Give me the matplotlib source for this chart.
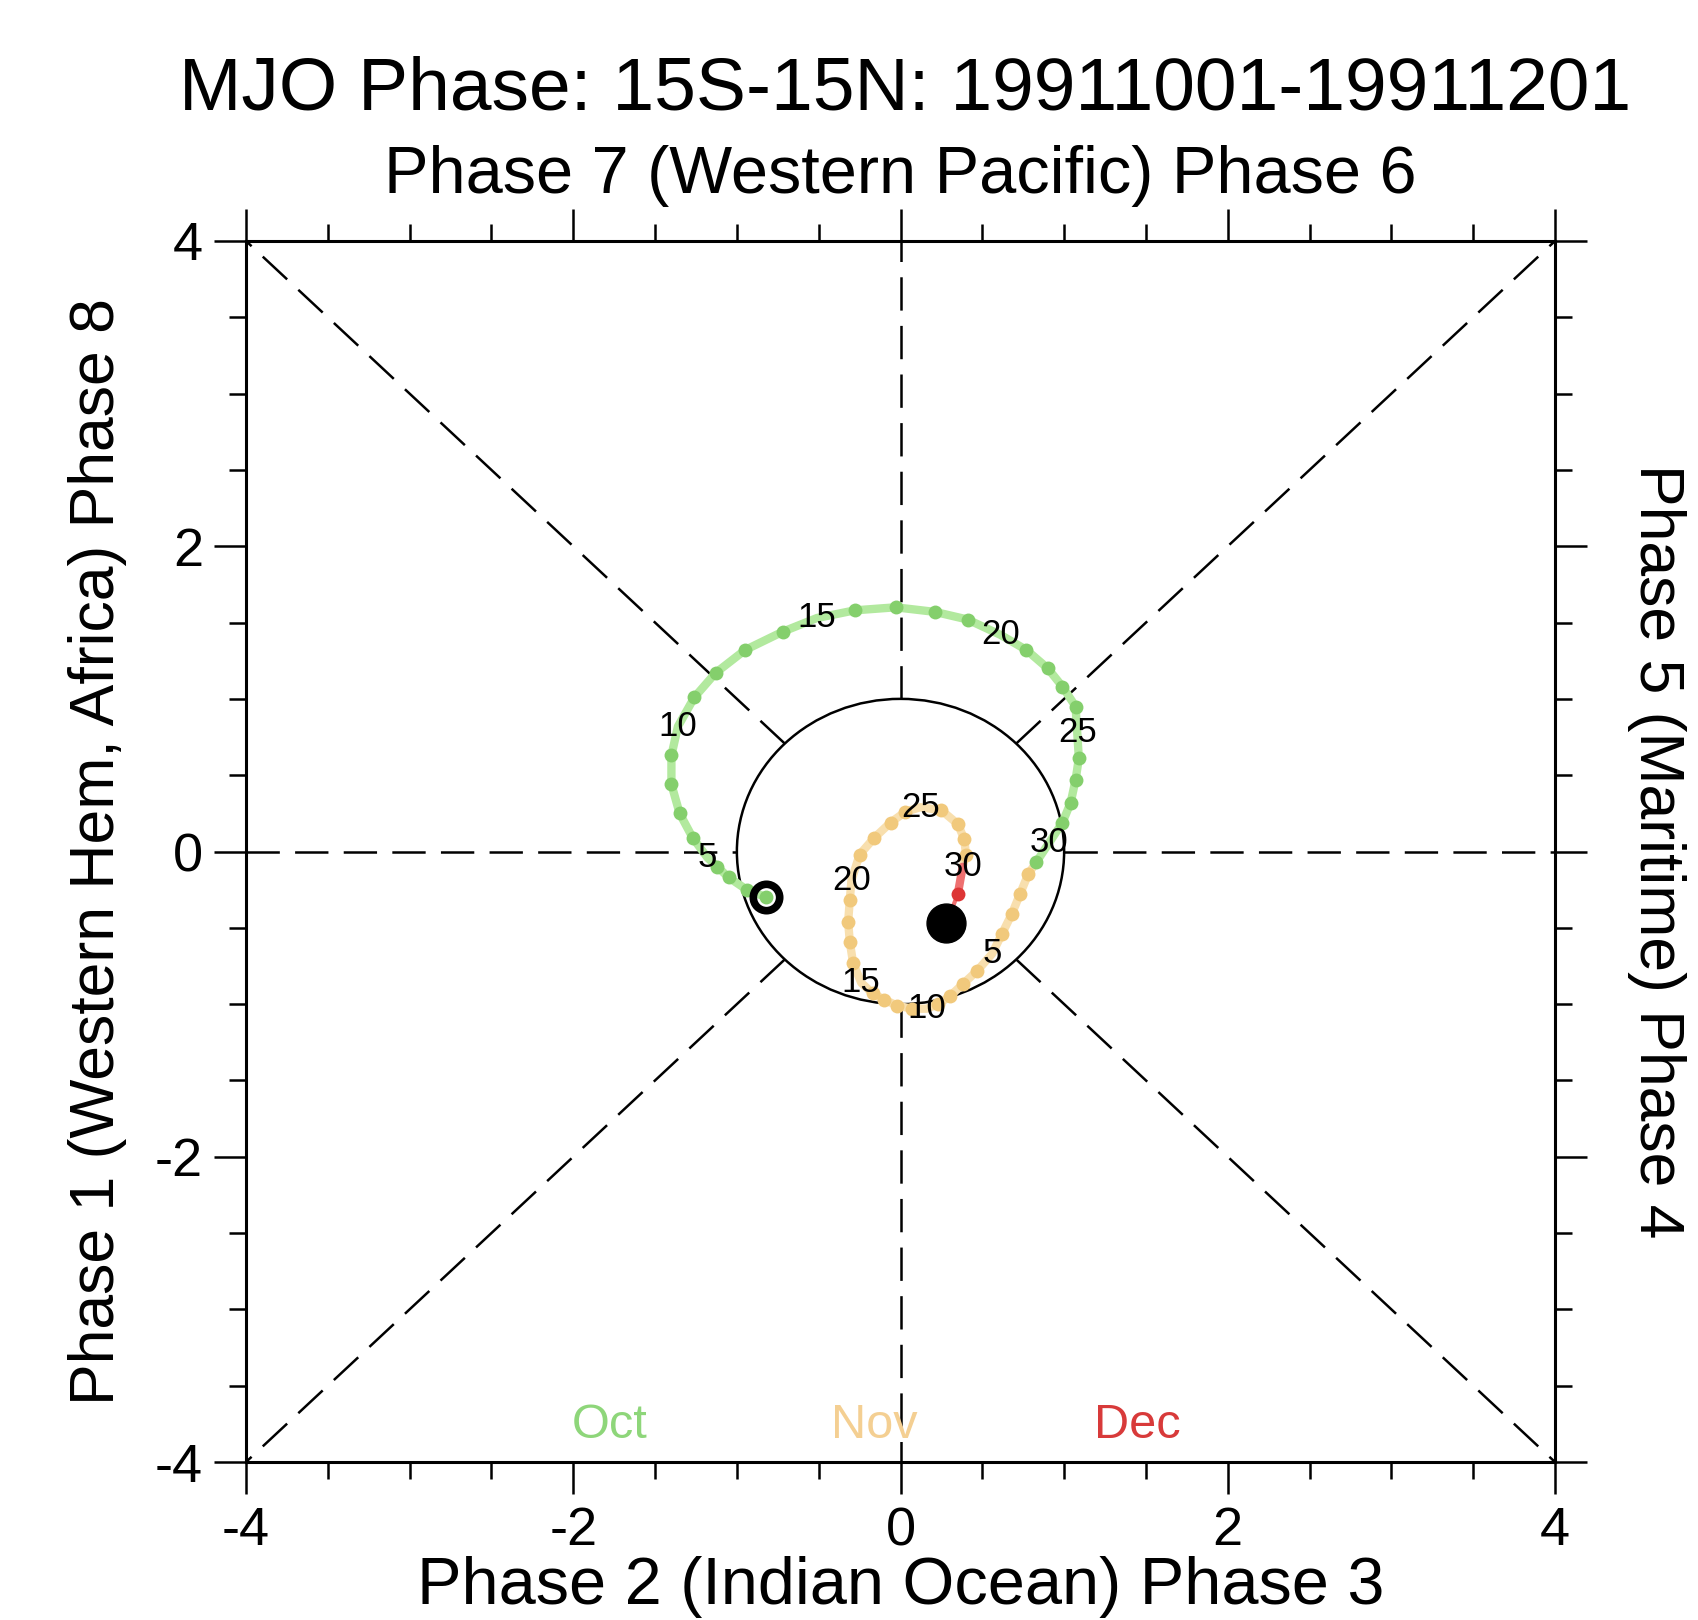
import numpy as np
import matplotlib
matplotlib.use("Agg")
import matplotlib.pyplot as plt
from matplotlib.patches import Circle
from matplotlib.ticker import MultipleLocator, FixedLocator

plt.rcParams['font.family'] = ['Liberation Sans', 'DejaVu Sans']
plt.rcParams['axes.unicode_minus'] = False
plt.rcParams['lines.scale_dashes'] = False

# ---------------- data ----------------
title = "MJO Phase: 15S-15N: 19911001-19911201"
top_label = "Phase 7 (Western Pacific) Phase 6"
bottom_label = "Phase 2 (Indian Ocean) Phase 3"
left_label = "Phase 1 (Western Hem, Africa) Phase 8"
right_label = "Phase 5 (Maritime) Phase 4"

major_ticks = [-4, -2, 0, 2, 4]
tick_labels = ["-4", "-2", "0", "2", "4"]

oct_x = [-0.82, -0.94, -1.05, -1.12, -1.18, -1.27, -1.35, -1.40, -1.40, -1.36,
         -1.26, -1.13, -0.95, -0.72, -0.51, -0.28, -0.03, 0.21, 0.41, 0.61,
         0.77, 0.90, 0.99, 1.07, 1.08, 1.09, 1.07, 1.04, 0.99, 0.91, 0.83]
oct_y = [-0.30, -0.25, -0.17, -0.10, -0.04, 0.09, 0.25, 0.44, 0.63, 0.82,
         1.01, 1.17, 1.32, 1.44, 1.53, 1.58, 1.60, 1.57, 1.52, 1.42,
         1.32, 1.20, 1.08, 0.95, 0.78, 0.61, 0.47, 0.32, 0.19, 0.06, -0.07]

nov_x = [0.78, 0.73, 0.68, 0.62, 0.56, 0.47, 0.38, 0.30, 0.23, 0.16,
         0.07, -0.02, -0.10, -0.17, -0.24, -0.29, -0.31, -0.32, -0.31, -0.30,
         -0.25, -0.16, -0.06, 0.03, 0.12, 0.25, 0.35, 0.39, 0.40, 0.38]
nov_y = [-0.15, -0.28, -0.41, -0.54, -0.67, -0.78, -0.87, -0.95, -1.00, -1.03,
         -1.03, -1.01, -0.97, -0.93, -0.86, -0.73, -0.59, -0.46, -0.32, -0.19,
         -0.02, 0.09, 0.19, 0.26, 0.29, 0.27, 0.18, 0.08, -0.02, -0.10]

dec_x = [0.35]
dec_y = [-0.28]

end_x = 0.28
end_y = -0.47

month_names = ["Oct", "Nov", "Dec"]
month_label_x = [-1.78, -0.16, 1.45]
month_label_y = -3.76

oct_marker_c, oct_line_c = "#84CF6C", "#B2E99E"
nov_marker_c, nov_line_c = "#F1C97C", "#F8DFAE"
dec_marker_c, dec_line_c = "#DD3535", "#EE7070"
month_text_c = ["#8ED67A", "#F4CF92", "#D83A3A"]

# ---------------- figure ----------------
W, H = 1698, 1620
fig = plt.figure(figsize=(W / 100, H / 100), dpi=100)
ax = fig.add_axes([246 / W, (H - 1462) / H, 1309 / W, 1221 / H])
ax.set_xlim(-4, 4)
ax.set_ylim(-4, 4)

# reference lines
dash = (0, (24, 11))
r = np.sqrt(0.5)
ax.plot([-4, -1], [0, 0], color="black", lw=1.8, linestyle=dash)
ax.plot([1, 4], [0, 0], color="black", lw=1.8, linestyle=dash)
ax.plot([0, 0], [1, 4], color="black", lw=1.8, linestyle=dash)
ax.plot([0, 0], [-1, -4], color="black", lw=1.8, linestyle=dash)
for sx, sy in [(1, 1), (-1, 1), (1, -1), (-1, -1)]:
    ax.plot([sx * r, sx * 4], [sy * r, sy * 4], color="black", lw=1.8,
            linestyle=dash)
ax.add_patch(Circle((0, 0), 1.0, fill=False, edgecolor="black", lw=1.8,
                    zorder=3))

# trajectory
def draw_month(xs, ys, prev, mc, lc, zo):
    lx = ([prev[0]] if prev else []) + list(xs)
    ly = ([prev[1]] if prev else []) + list(ys)
    ax.plot(lx, ly, color=lc, lw=6, solid_capstyle="round", zorder=zo)
    mx = [x for i, x in enumerate(xs) if (i + 1) % 5 != 0]
    my = [y for i, y in enumerate(ys) if (i + 1) % 5 != 0]
    ax.plot(mx, my, linestyle="none", marker="o", ms=10, color=mc,
            markeredgewidth=0, zorder=zo + 0.5)
    for i, (x, y) in enumerate(zip(xs, ys)):
        if (i + 1) % 5 == 0:
            ax.text(x, y, str(i + 1), ha="center", va="center",
                    fontsize=25, color="black", zorder=10)

draw_month(oct_x, oct_y, None, oct_marker_c, oct_line_c, 4)
draw_month(nov_x, nov_y, (oct_x[-1], oct_y[-1]), nov_marker_c, nov_line_c, 4)
draw_month(dec_x, dec_y, (nov_x[-1], nov_y[-1]), dec_marker_c, dec_line_c, 5)
ax.plot([dec_x[-1], end_x], [dec_y[-1], end_y], color=dec_line_c, lw=3,
        zorder=5)

# start / end markers
ax.plot([oct_x[0]], [oct_y[0]], marker="o", ms=19, markerfacecolor="none",
        markeredgecolor="black", markeredgewidth=5.5, zorder=8)
ax.plot([end_x], [end_y], marker="o", ms=28, color="black", zorder=8)

# month labels
for name, mx, c in zip(month_names, month_label_x, month_text_c):
    ax.text(mx, month_label_y, name, ha="center", va="center",
            fontsize=35, color=c, zorder=6)

# axes styling
for s in ax.spines.values():
    s.set_linewidth(2.2)
ax.xaxis.set_major_locator(FixedLocator(major_ticks))
ax.yaxis.set_major_locator(FixedLocator(major_ticks))
ax.xaxis.set_minor_locator(MultipleLocator(0.5))
ax.yaxis.set_minor_locator(MultipleLocator(0.5))
ax.set_xticklabels(tick_labels)
ax.set_yticklabels(tick_labels)
ax.tick_params(which="both", direction="out", top=True, right=True,
               labeltop=False, labelright=False, width=1.8)
ax.tick_params(which="major", length=23, labelsize=39)
ax.tick_params(which="minor", length=12)
ax.tick_params(axis="x", which="major", pad=9)
ax.tick_params(axis="y", which="major", pad=8)

# titles and side labels
fig.text(905 / W, 1 - 110 / H, title, ha="center", va="baseline",
         fontsize=54)
fig.text(900.5 / W, 1 - 193 / H, top_label, ha="center", va="baseline",
         fontsize=48)
fig.text(900.5 / W, 1 - 1604 / H, bottom_label, ha="center", va="baseline",
         fontsize=48)
fig.text(114 / W, 1 - 851.5 / H, left_label, ha="center", va="baseline",
         rotation=90, rotation_mode="anchor", fontsize=45)
fig.text(1640 / W, 1 - 851.5 / H, right_label, ha="center", va="baseline",
         rotation=-90, rotation_mode="anchor", fontsize=45)

fig.savefig("out.png", dpi=100, facecolor="white")
